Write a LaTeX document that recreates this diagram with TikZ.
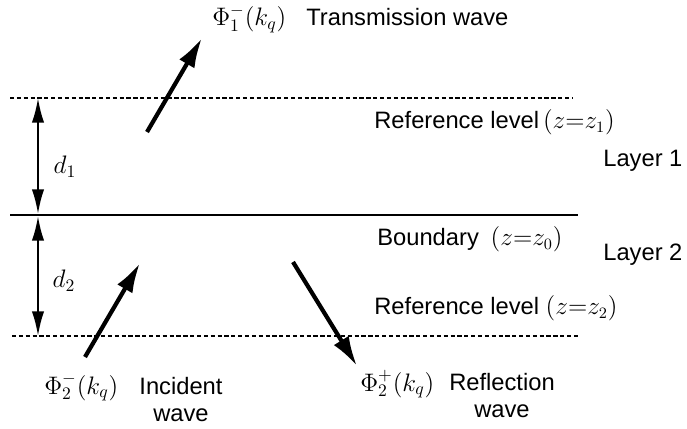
\documentclass[tikz,border=0pt]{standalone}
\usepackage{fontspec}
\setmainfont{Liberation Sans}
\usetikzlibrary{arrows.meta,positioning}

\begin{document}
\begin{tikzpicture}[x=0.02cm,y=-0.02cm,>=Latex,
  wave/.style={-{Latex[length=17pt,width=10pt]},line width=2.4pt},
  gap/.style={{Latex[length=14pt,width=7pt]}-{Latex[length=14pt,width=7pt]},line width=1.2pt},
  level/.style={line width=1.2pt,dash pattern=on 2.4pt off 1.5pt},
  txt/.style={inner sep=0pt,font=\fontsize{13.5}{15.5}\selectfont},
  sym/.style={inner sep=0pt,font=\fontsize{14.5}{16}\selectfont}]
\useasboundingbox (0,0) rectangle (687,429);
% levels
\coordinate (t1) at (10,98);  \coordinate (t2) at (573,98);
\coordinate (b1) at (10,215); \coordinate (b2) at (578,215);
\coordinate (r1) at (12,336); \coordinate (r2) at (578,336);
\draw[level] (t1)--(t2);
\draw[line width=1.3pt] (b1)--(b2);
\draw[level] (r1)--(r2);
% thicknesses
\coordinate (d1top) at (38,98);  \coordinate (d1bot) at (38,214);
\coordinate (d2top) at (38,216); \coordinate (d2bot) at (38,336);
\draw[gap] (d1top)--(d1bot);
\draw[gap] (d2top)--(d2bot);
\node[sym] (d1) at (65,167) {$d_1$};
\node[sym] (d2) at (64,281) {$d_2$};
% waves
\coordinate (tr0) at (147,132); \coordinate (tr1) at (202,38);
\coordinate (in0) at (85,357);  \coordinate (in1) at (140,263);
\coordinate (re0) at (293,262); \coordinate (re1) at (357,366);
\draw[wave] (tr0)--(tr1);
\draw[wave] (in0)--(in1);
\draw[wave] (re0)--(re1);
% labels
\node[sym,anchor=base west] (phit) at (212,26) {$\Phi_1^-(k_q)$};
\node[txt,anchor=base west] (trans) at (306,26) {Transmission wave};
\node[txt,anchor=base west] (ref1) at (374,129) {Reference level\,$(z{=}z_1)$};
\node[txt,anchor=base west] (lay1) at (603,167) {Layer 1};
\node[txt,anchor=base west] (bound) at (377,246) {Boundary\enspace$(z{=}z_0)$};
\node[txt,anchor=base west] (lay2) at (603,260) {Layer 2};
\node[txt,anchor=base west] (ref2) at (374,315) {Reference level\;$(z{=}z_2)$};
\node[sym,anchor=base west] (phii) at (44,394) {$\Phi_2^-(k_q)$};
\node[txt,align=center,anchor=north] (inc) at (181,377) {Incident\\wave};
\node[sym,anchor=base west] (phir) at (360,391) {$\Phi_2^+(k_q)$};
\node[txt,align=center,anchor=north] (refl) at (502,373) {Reflection\\wave};
\end{tikzpicture}
\end{document}
